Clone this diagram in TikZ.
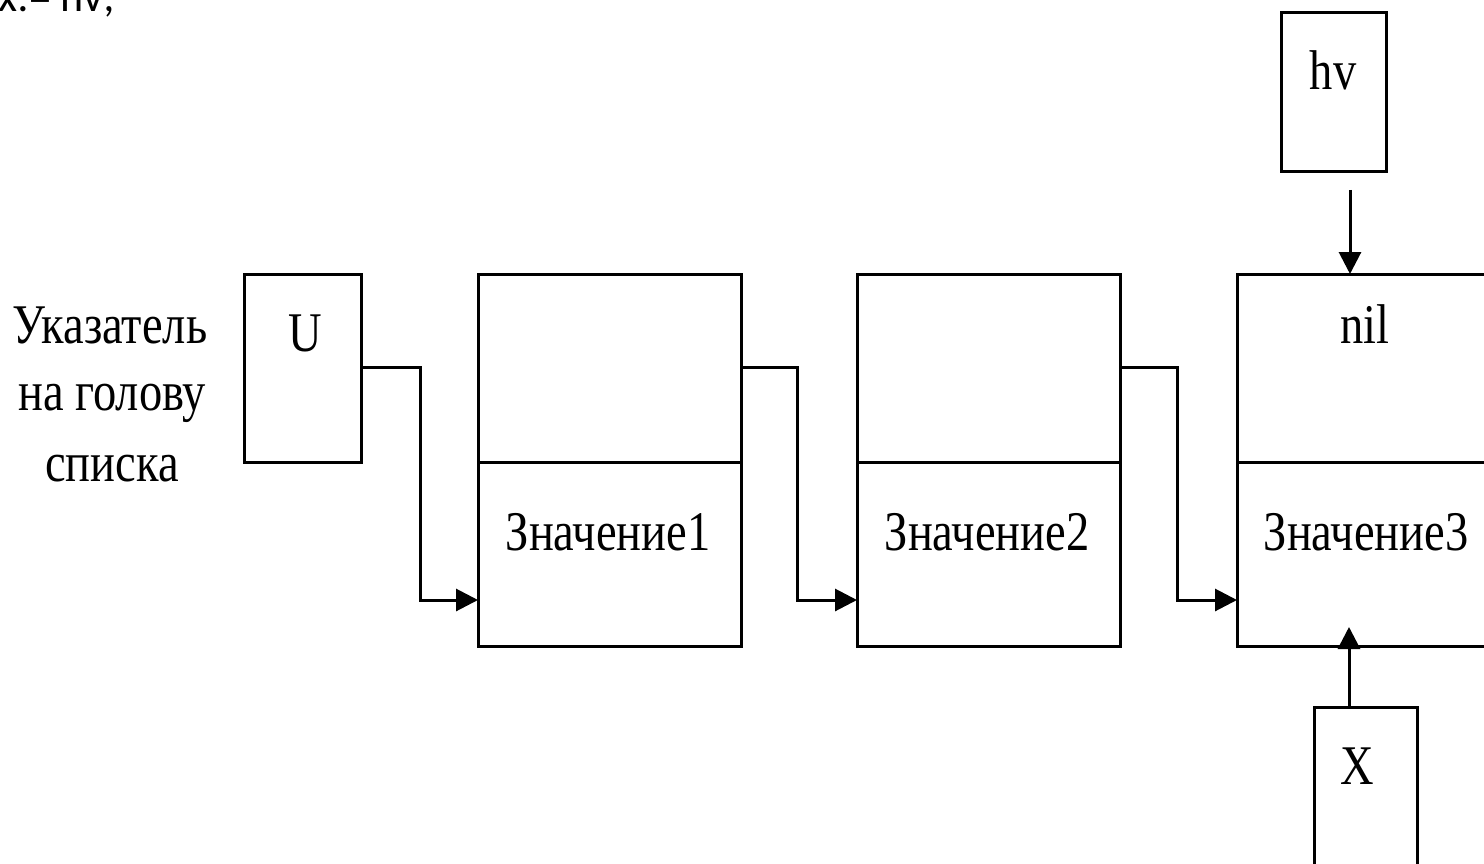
\documentclass[tikz,border=0pt]{standalone}
\usepackage{fontspec}
\setmainfont{Liberation Serif}
\newfontfamily\capfont{Carlito}
\usetikzlibrary{arrows.meta}
\begin{document}
\begin{tikzpicture}[x=1pt,y=-1pt,
  box/.style={draw,line width=3pt},
  lbl/.style={font=\fontsize{56}{66}\selectfont,xscale=0.83,inner sep=0,anchor=base},
  con/.style={line width=3pt,-{Triangle[length=22pt,width=22pt]}},
  ]
\useasboundingbox (0,0) rectangle (1484,864);
\node[anchor=base west,inner sep=0,font=\capfont\fontsize{44}{52}\selectfont] (cmd) at (-2,12) {x:= hv;};
% left label
\node[lbl] (l1) at (110,343) {Указатель};
\node[lbl] (l2) at (112,410) {на голову};
\node[lbl] (l3) at (112,481) {списка};
% U box
\draw[box] (244,274) rectangle (361,462);
\node[lbl] (u) at (305,351) {U};
\coordinate (uout) at (361,367);
% list boxes
\foreach \i/\x in {1/478,2/857,3/1237}{
  \draw[box] (\x,274) rectangle ++(263,372);
  \draw[box] (\x,462) -- ++(263,0);
  \coordinate (in\i) at (\x,600);
  \coordinate (out\i) at (\x+263,367);
}
\node[lbl] (v1) at (608,550) {Значение1};
\node[lbl] (v2) at (987,550) {Значение2};
\node[lbl] (v3) at (1366,550) {Значение3};
\node[lbl] (nil) at (1365,343) {nil};
\draw[con] (uout) -- (420,367) -- (420,600) -- (in1);
\draw[con] (out1) -- (797,367) -- (797,600) -- (in2);
\draw[con] (out2) -- (1177,367) -- (1177,600) -- (in3);
% hv
\draw[box] (1281,13) rectangle (1386,172);
\node[lbl] (hv) at (1333,90) {hv};
\coordinate (hvs) at (1350,190);
\coordinate (hvt) at (1350,274);
\draw[con] (hvs) -- (hvt);
% X
\draw[box] (1314,707) rectangle (1417,900);
\node[lbl] (xx) at (1357,784) {X};
\coordinate (xs) at (1349,707);
\coordinate (xt) at (1349,627);
\draw[con] (xs) -- (xt);
\end{tikzpicture}
\end{document}
